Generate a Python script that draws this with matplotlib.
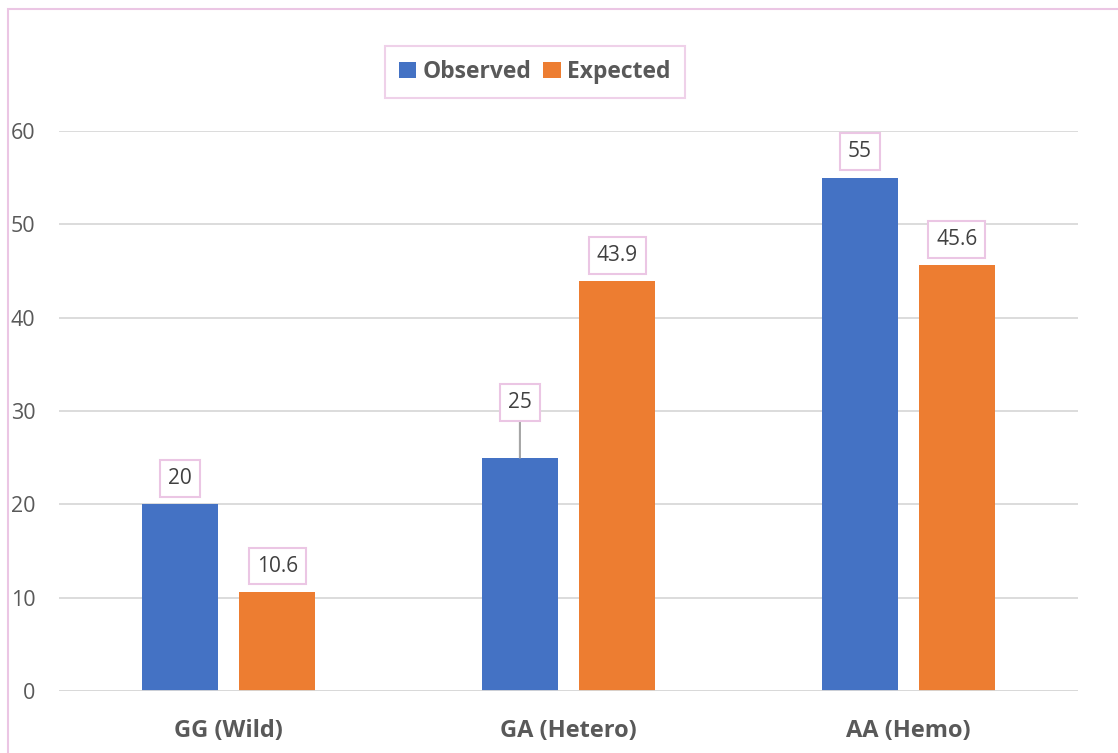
import matplotlib.pyplot as plt
from matplotlib.patches import Rectangle
import numpy as np

plt.rcParams['font.family'] = ['Open Sans', 'DejaVu Sans']

# data
categories = ["GG (Wild)", "GA (Hetero)", "AA (Hemo)"]
observed = [20, 25, 55]
expected = [10.6, 43.9, 45.6]

blue = "#4472C4"
orange = "#ED7D31"
pink = "#EBC6E4"
grey_text = "#595959"

W, H = 1118, 753
fig = plt.figure(figsize=(W / 100, H / 100), dpi=100)
ax = fig.add_axes([59 / W, (H - 691) / H, (1078 - 59) / W, (691 - 131) / H])

x = np.arange(len(categories))
width = 0.224
off = 0.143
bars_obs = ax.bar(x - off, observed, width, color=blue, label="Observed", zorder=3)
bars_exp = ax.bar(x + off, expected, width, color=orange, label="Expected", zorder=3)

ax.set_xlim(-0.5, 2.5)
ax.set_ylim(0, 60)
ax.set_yticks(range(0, 61, 10))
ax.yaxis.grid(True, color="#D9D9D9", linewidth=1.3, zorder=0)
ax.set_axisbelow(True)
for s in ax.spines.values():
    s.set_visible(False)
ax.axhline(0, color="#D9D9D9", linewidth=1.3, zorder=4)
ax.tick_params(axis="y", length=0, pad=17, labelsize=15.5, labelcolor=grey_text)
ax.tick_params(axis="x", length=0, pad=20, labelsize=17, labelcolor=grey_text)
ax.set_xticks(x)
ax.set_xticklabels(categories, fontweight="bold")

# data labels with pink boxes
box = dict(boxstyle="square,pad=0.38", facecolor="white", edgecolor=pink, linewidth=1.5)
for bars, vals in [(bars_obs, observed), (bars_exp, expected)]:
    for b, v in zip(bars, vals):
        cx = b.get_x() + b.get_width() / 2
        txt = f"{v:g}"
        if v == 25:
            ax.annotate(txt, (cx, v), xytext=(0, 55), textcoords="offset pixels",
                        ha="center", va="center", fontsize=15, color="#404040",
                        bbox=box, zorder=5,
                        arrowprops=dict(arrowstyle="-", color="#A6A6A6", lw=1.5,
                                        shrinkA=0, shrinkB=0))
        else:
            ax.annotate(txt, (cx, v), xytext=(0, 26), textcoords="offset pixels",
                        ha="center", va="center", fontsize=15, color="#404040",
                        bbox=box, zorder=5)

leg = fig.legend(handles=[bars_obs, bars_exp], loc="center",
                 bbox_to_anchor=(535 / W, 1 - 72 / H), ncol=2, frameon=True,
                 fancybox=False, edgecolor=pink, handlelength=0.75, handleheight=0.75,
                 handletextpad=0.3, columnspacing=0.5, borderpad=0.6,
                 prop={"weight": "bold", "size": 16.5})
leg.get_frame().set_linewidth(1.5)
for t in leg.get_texts():
    t.set_color(grey_text)

# outer chart frame (pink)
fig.patches.append(Rectangle((8 / W, -0.1), 1.2, 1.1 - 9 / H,
                             transform=fig.transFigure, fill=False,
                             edgecolor=pink, linewidth=1.5))

fig.savefig("out.png", dpi=100, facecolor="white")
